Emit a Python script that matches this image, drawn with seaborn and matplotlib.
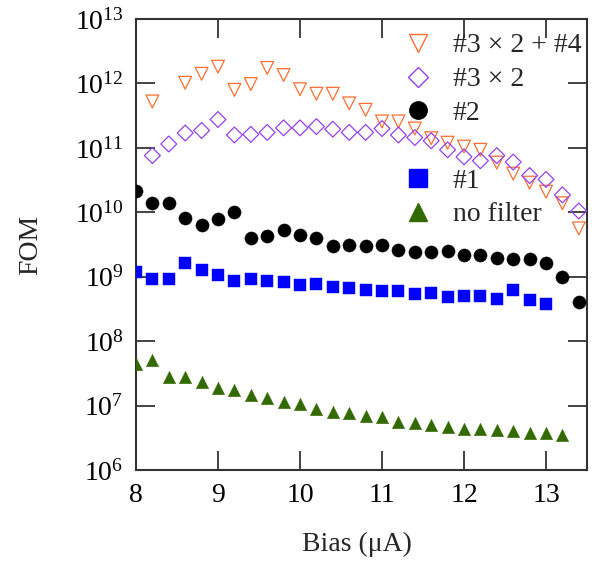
import numpy as np
import pandas as pd
import matplotlib
matplotlib.use("Agg")
import matplotlib.pyplot as plt
from matplotlib.lines import Line2D
import seaborn as sns

# ---- data (log10 of FOM) ----
bias_full = [8.0, 8.2, 8.4, 8.6, 8.8, 9.0, 9.2, 9.4, 9.6, 9.8, 10.0, 10.2, 10.4, 10.6,
             10.8, 11.0, 11.2, 11.4, 11.6, 11.8, 12.0, 12.2, 12.4, 12.6, 12.8, 13.0, 13.2, 13.4]

bias_f34 = [8.2, 8.6, 8.8, 9.0, 9.2, 9.4, 9.6, 9.8, 10.0, 10.2, 10.4, 10.6,
            10.8, 11.0, 11.2, 11.4, 11.6, 11.8, 12.0, 12.2, 12.4, 12.6, 12.8, 13.0, 13.2, 13.4]
log_f34 = [11.72, 12.01, 12.15, 12.26, 11.90, 11.99, 12.24, 12.13, 11.91, 11.84, 11.84, 11.69,
           11.59, 11.41, 11.41, 11.30, 11.15, 11.08, 11.02, 10.97, 10.77, 10.60, 10.46, 10.32, 10.14, 9.75]

bias_f3 = bias_full[1:]
log_f3 = [10.88, 11.06, 11.23, 11.27, 11.44, 11.20, 11.21, 11.24, 11.31, 11.31, 11.33, 11.29, 11.24,
          11.24, 11.30, 11.20, 11.16, 11.11, 10.97, 10.86, 10.80, 10.88, 10.78, 10.57, 10.51, 10.27, 10.02]

bias_f2 = bias_full
log_f2 = [10.33, 10.14, 10.14, 9.91, 9.81, 9.89, 10.01, 9.60, 9.63, 9.72, 9.65, 9.60, 9.47, 9.49,
          9.47, 9.50, 9.42, 9.38, 9.39, 9.40, 9.34, 9.33, 9.29, 9.27, 9.28, 9.21, 8.99, 8.60]

bias_f1 = bias_full[:26]
log_f1 = [9.08, 8.96, 8.97, 9.22, 9.10, 9.03, 8.93, 8.96, 8.93, 8.92, 8.87, 8.88, 8.84, 8.83,
          8.79, 8.78, 8.78, 8.73, 8.74, 8.69, 8.70, 8.70, 8.65, 8.79, 8.64, 8.57]

bias_nf = bias_full[:27]
log_nf = [7.65, 7.71, 7.45, 7.45, 7.37, 7.28, 7.24, 7.17, 7.11, 7.06, 7.02, 6.94, 6.90, 6.88,
          6.84, 6.82, 6.75, 6.73, 6.70, 6.67, 6.64, 6.63, 6.62, 6.60, 6.58, 6.57, 6.54]

labels = ["#3 × 2 + #4", "#3 × 2", "#2", "#1", "no filter"]
xticks = [8, 9, 10, 11, 12, 13]

# ---- style ----
sns.set_style("ticks")
plt.rcParams["font.family"] = ["Liberation Serif", "DejaVu Serif"]
plt.rcParams["mathtext.fontset"] = "custom"
plt.rcParams["mathtext.rm"] = "Liberation Serif"
plt.rcParams["mathtext.it"] = "Liberation Serif:italic"
plt.rcParams["mathtext.bf"] = "Liberation Serif:bold"

FS = 20

fig = plt.figure(figsize=(6.02, 5.68), dpi=100)
ax = fig.add_axes([136/602, 1-470/568, (587-136)/602, (470-19)/568])

c_orange = "#ff6e30"
c_purple = "#9440f0"
c_black = "#000000"
c_blue = "#0000ff"
c_green = "#336a00"

series = [
    (bias_f34, log_f34, "v", c_orange, True, 85),
    (bias_f3, log_f3, "D", c_purple, True, 65),
    (bias_f2, log_f2, "o", c_black, False, 90),
    (bias_f1, log_f1, "s", c_blue, False, 80),
    (bias_nf, log_nf, "^", c_green, False, 80),
]

for xs, ls, mk, col, hollow, size in series:
    df = pd.DataFrame({"Bias": xs, "FOM": np.power(10.0, ls)})
    sns.scatterplot(data=df, x="Bias", y="FOM", marker=mk, s=size, color=col,
                    edgecolor=col, linewidth=0.9, ax=ax, legend=False, zorder=3)
    coll = ax.collections[-1]
    if hollow:
        coll.set_facecolor("none")
        coll.set_edgecolor(col)
        coll.set_linewidth(0.9)
    else:
        coll.set_edgecolor(col)
        coll.set_linewidth(0.3)

ax.set_yscale("log")
ax.set_xlim(8, 13.5)
ax.set_ylim(1e6, 1e13)
ax.set_xticks(xticks)
ax.set_xticklabels([str(t) for t in xticks])
ax.set_yticks([10.0**k for k in range(6, 14)])
ax.set_yticklabels([r"$10^{%d}$" % k for k in range(6, 14)])
ax.yaxis.set_minor_locator(matplotlib.ticker.NullLocator())
ax.tick_params(axis="both", which="major", direction="in", length=14, width=1.2,
               top=True, right=True, labelsize=FS, colors="#222222", labelcolor="black")
ax.tick_params(axis="x", pad=9)
ax.tick_params(axis="y", pad=9)
for sp in ax.spines.values():
    sp.set_linewidth(1.5)
    sp.set_color("#333333")

ax.set_xlabel("Bias (μA)", fontsize=FS)
ax.xaxis.set_label_coords(0.49, -0.138)
ax.set_ylabel("FOM", fontsize=FS)
ax.yaxis.set_label_coords(-0.206, 0.5)

handles = [
    Line2D([], [], linestyle="none", marker="v", markersize=13.5, markerfacecolor="none",
           markeredgecolor=c_orange, markeredgewidth=1.0),
    Line2D([], [], linestyle="none", marker="D", markersize=10.5, markerfacecolor="none",
           markeredgecolor=c_purple, markeredgewidth=1.0),
    Line2D([], [], linestyle="none", marker="o", markersize=12.5, color=c_black),
    Line2D([], [], linestyle="none", marker="none"),
    Line2D([], [], linestyle="none", marker="s", markersize=12.5, color=c_blue),
    Line2D([], [], linestyle="none", marker="^", markersize=12.5, color=c_green),
]
leg_labels = [labels[0], labels[1], labels[2], "", labels[3], labels[4]]
ax.legend(handles, leg_labels, loc="upper right", frameon=False, fontsize=FS,
          handlelength=1.0, handletextpad=0.75, labelspacing=0.30,
          borderaxespad=0.0, borderpad=0.1, bbox_to_anchor=(0.993, 0.975))

fig.savefig("out.png", dpi=100)
